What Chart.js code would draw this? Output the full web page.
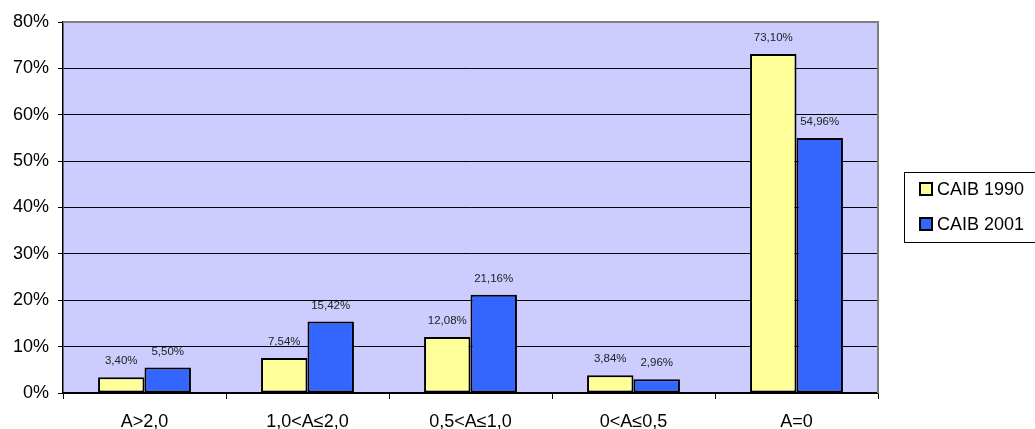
<!DOCTYPE html>
<html>
<head>
<meta charset="utf-8">
<script src="https://cdn.jsdelivr.net/npm/chart.js@4/dist/chart.umd.min.js"></script>
<style>
  html, body { margin: 0; padding: 0; background: #fff; }
  #wrap { width: 1035px; height: 429px; position: relative; }
</style>
</head>
<body>
<div id="wrap"><canvas id="chart"></canvas></div>
<script>
// data
const categories = ['A>2,0', '1,0<A≤2,0', '0,5<A≤1,0', '0<A≤0,5', 'A=0'];
const caib1990 = [3.40, 7.54, 12.08, 3.84, 73.10];
const caib2001 = [5.50, 15.42, 21.16, 2.96, 54.96];
const seriesNames = ['CAIB 1990', 'CAIB 2001'];
const yTicks = [0, 10, 20, 30, 40, 50, 60, 70, 80];

const FONT = 'Liberation Sans, Arial, sans-serif';

function fmt(v) {
    return v.toFixed(2).replace('.', ',') + '%';
}

// lavender plot background and grey frame on top/right
const plotFrame = {
    id: 'plotFrame',
    beforeDraw(chart) {
        const a = chart.chartArea;
        const ctx = chart.ctx;
        ctx.save();
        ctx.fillStyle = '#CCCCFF';
        ctx.fillRect(a.left, a.top, a.right - a.left, a.bottom - a.top);
        ctx.restore();
    },
    afterDatasetsDraw(chart) {
        const a = chart.chartArea;
        const ctx = chart.ctx;
        ctx.save();
        ctx.strokeStyle = '#808080';
        ctx.lineWidth = 2;
        ctx.beginPath();
        ctx.moveTo(a.left, a.top);
        ctx.lineTo(a.right, a.top);
        ctx.lineTo(a.right, a.bottom);
        ctx.stroke();
        ctx.restore();
    }
};

// value labels above bars
const valueLabels = {
    id: 'valueLabels',
    afterDatasetsDraw(chart) {
        const ctx = chart.ctx;
        ctx.save();
        ctx.font = '11.5px ' + FONT;
        ctx.fillStyle = '#222';
        ctx.textAlign = 'center';
        ctx.textBaseline = 'middle';
        chart.data.datasets.forEach((ds, i) => {
            chart.getDatasetMeta(i).data.forEach((bar, j) => {
                ctx.fillText(fmt(ds.data[j]), bar.x, bar.y - 16);
            });
        });
        ctx.restore();
    }
};

// boxed legend on the right
const boxLegend = {
    id: 'boxLegend',
    afterDraw(chart) {
        const ctx = chart.ctx;
        ctx.save();
        ctx.strokeStyle = '#000';
        ctx.lineWidth = 1;
        ctx.strokeRect(904.5, 172.5, 140, 70);
        ctx.font = '18px ' + FONT;
        ctx.textBaseline = 'middle';
        chart.data.datasets.forEach((ds, i) => {
            const cy = 189 + i * 35;
            ctx.fillStyle = ds.backgroundColor;
            ctx.fillRect(920, cy - 6, 12, 12);
            ctx.lineWidth = 2;
            ctx.strokeStyle = '#000';
            ctx.strokeRect(920, cy - 6, 12, 12);
            ctx.fillStyle = '#000';
            ctx.fillText(ds.label, 937, cy + 1);
        });
        ctx.restore();
    }
};

const ctx = document.getElementById('chart').getContext('2d');
new Chart(ctx, {
    type: 'bar',
    data: {
        labels: categories,
        datasets: [{
            label: seriesNames[0],
            data: caib1990,
            backgroundColor: '#FFFF99',
            borderColor: '#000',
            borderWidth: 2,
            borderSkipped: false
        }, {
            label: seriesNames[1],
            data: caib2001,
            backgroundColor: '#3366FF',
            borderColor: '#000',
            borderWidth: 2,
            borderSkipped: false
        }]
    },
    options: {
        responsive: true,
        maintainAspectRatio: false,
        animation: false,
        layout: { padding: { top: 22, right: 157, left: 0, bottom: 0 } },
        datasets: { bar: { categoryPercentage: 0.57, barPercentage: 1.0 } },
        plugins: {
            legend: { display: false },
            tooltip: { enabled: false }
        },
        scales: {
            x: {
                offset: true,
                grid: {
                    offset: true,
                    drawOnChartArea: false,
                    color: '#000',
                    tickLength: 6
                },
                border: { color: '#000', width: 1.5 },
                ticks: {
                    color: '#000',
                    font: { family: FONT, size: 18 },
                    padding: 12,
                    maxRotation: 0
                },
                afterFit(scale) { scale.height = 36; }
            },
            y: {
                min: 0,
                max: 80,
                afterBuildTicks(scale) {
                    scale.ticks = yTicks.map(v => ({ value: v }));
                },
                grid: {
                    color: c => c.tick && c.tick.value === 80 ? '#808080' : '#000',
                    tickColor: '#000',
                    tickLength: 5,
                    lineWidth: 1
                },
                border: { color: '#000', width: 1.5 },
                ticks: {
                    color: '#000',
                    font: { family: FONT, size: 18 },
                    padding: 9,
                    callback: v => v + '%'
                },
                afterFit(scale) { scale.width = 63; }
            }
        }
    },
    plugins: [plotFrame, valueLabels, boxLegend]
});
</script>
</body>
</html>
